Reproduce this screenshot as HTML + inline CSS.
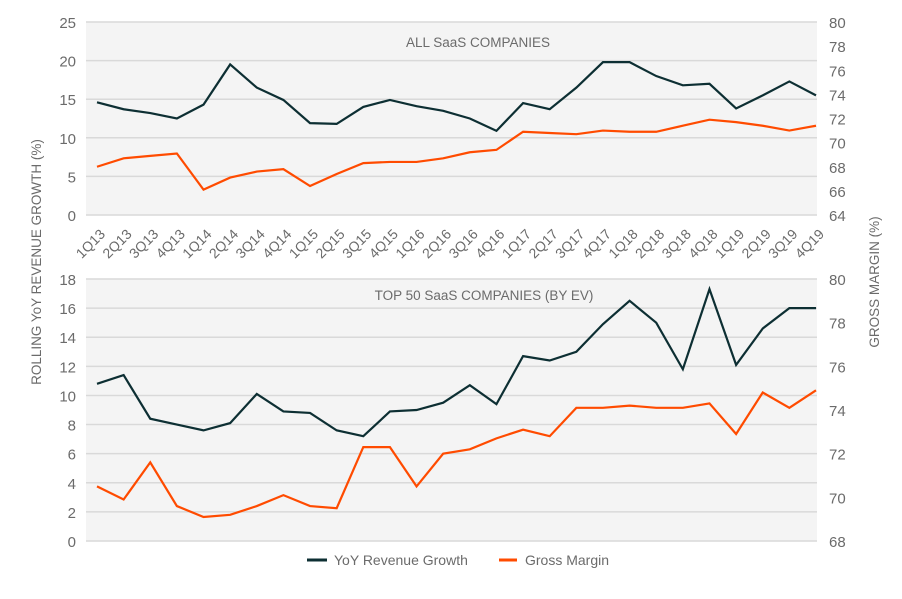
<!DOCTYPE html>
<html><head><meta charset="utf-8"><style>
body{margin:0;background:#fff;font-family:"Liberation Sans",sans-serif;}
svg text{fill:#6b6b6b;font-family:"Liberation Sans",sans-serif;}
</style></head><body>
<svg id="c" width="902" height="594" viewBox="0 0 902 594"></svg>
<script>
const quarters=["1Q13","2Q13","3Q13","4Q13","1Q14","2Q14","3Q14","4Q14","1Q15","2Q15","3Q15","4Q15","1Q16","2Q16","3Q16","4Q16","1Q17","2Q17","3Q17","4Q17","1Q18","2Q18","3Q18","4Q18","1Q19","2Q19","3Q19","4Q19"];
const topGrowth=[14.6,13.7,13.2,12.5,14.3,19.5,16.5,14.9,11.9,11.8,14.0,14.9,14.1,13.5,12.5,10.9,14.5,13.7,16.5,19.8,19.8,18.0,16.8,17.0,13.8,15.5,17.3,15.5];
const topMargin=[68.0,68.7,68.9,69.1,66.1,67.1,67.6,67.8,66.4,67.4,68.3,68.4,68.4,68.7,69.2,69.4,70.9,70.8,70.7,71.0,70.9,70.9,71.4,71.9,71.7,71.4,71.0,71.4];
const botGrowth=[10.8,11.4,8.4,8.0,7.6,8.1,10.1,8.9,8.8,7.6,7.2,8.9,9.0,9.5,10.7,9.4,12.7,12.4,13.0,14.9,16.5,15.0,11.8,17.3,12.1,14.6,16.0,16.0];
const botMargin=[70.5,69.9,71.6,69.6,69.1,69.2,69.6,70.1,69.6,69.5,72.3,72.3,70.5,72.0,72.2,72.7,73.1,72.8,74.1,74.1,74.2,74.1,74.1,74.3,72.9,74.8,74.1,74.9];
const topLeftTicks=[0,5,10,15,20,25];
const topRightTicks=[64,66,68,70,72,74,76,78,80];
const botLeftTicks=[0,2,4,6,8,10,12,14,16,18];
const botRightTicks=[68,70,72,74,76,78,80];

const svg=document.getElementById('c');
const NS='http://www.w3.org/2000/svg';
function mk(t,a,txt){const e=document.createElementNS(NS,t);for(const k in a)e.setAttribute(k,a[k]);if(txt!==undefined)e.textContent=txt;svg.appendChild(e);return e;}
const L=86,R=817,X0=97,X1=816;
const x=i=>X0+(X1-X0)*i/(quarters.length-1);

function panel(name,yTop,yBot,lmin,lmax,rmin,rmax,lt,rt,g,m,title,tx,ty){
  const yl=v=>yBot-(v-lmin)/(lmax-lmin)*(yBot-yTop);
  const yr=v=>yBot-(v-rmin)/(rmax-rmin)*(yBot-yTop);
  let e=mk('rect',{x:L,y:yTop,width:R-L,height:yBot-yTop,fill:'#f4f4f4'});
  
  
  lt.forEach(v=>{
    e=mk('line',{x1:L,x2:R,y1:yl(v),y2:yl(v),stroke:'#d9d9d9','stroke-width':1.5});
    
    
    e=mk('text',{x:76,y:yl(v)+6,'text-anchor':'end','font-size':15},String(v));
    
    
  });
  rt.forEach(v=>{
    e=mk('text',{x:829,y:yr(v)+6,'font-size':15},String(v));
    
    
  });
  e=mk('polyline',{points:g.map((v,i)=>x(i)+','+yl(v)).join(' '),fill:'none',stroke:'#0d2f33','stroke-width':2.2,'stroke-linejoin':'miter'});
  
  
  e=mk('polyline',{points:m.map((v,i)=>x(i)+','+yr(v)).join(' '),fill:'none',stroke:'#ff4b00','stroke-width':2.2});
  
  
  e=mk('text',{x:tx,y:ty,'text-anchor':'middle','font-size':13.5},title);
  
  
}
panel('top',22,215,0,25,64,80,topLeftTicks,topRightTicks,topGrowth,topMargin,'ALL SaaS COMPANIES',478,47);
panel('bottom',279,541,0,18,68,80,botLeftTicks,botRightTicks,botGrowth,botMargin,'TOP 50 SaaS COMPANIES (BY EV)',484,300);

quarters.forEach((q,i)=>{
  const px=x(i)+9,py=235;
  const e=mk('text',{x:px,y:py,'text-anchor':'end','font-size':14,transform:`rotate(-45 ${px} ${py})`},q);
  
  
});
let e=mk('text',{x:0,y:0,'text-anchor':'middle','font-size':13.5,transform:'translate(41 262) rotate(-90)'},'ROLLING YoY REVENUE GROWTH (%)');


e=mk('text',{x:0,y:0,'text-anchor':'middle','font-size':13.5,transform:'translate(879 282) rotate(-90)'},'GROSS MARGIN (%)');


e=mk('line',{x1:307,x2:327,y1:560,y2:560,stroke:'#0d2f33','stroke-width':3});


e=mk('text',{x:334,y:565,'font-size':14},'YoY Revenue Growth');


e=mk('line',{x1:499,x2:517,y1:560,y2:560,stroke:'#ff4b00','stroke-width':3});


e=mk('text',{x:525,y:565,'font-size':14},'Gross Margin');


</script>
</body></html>
